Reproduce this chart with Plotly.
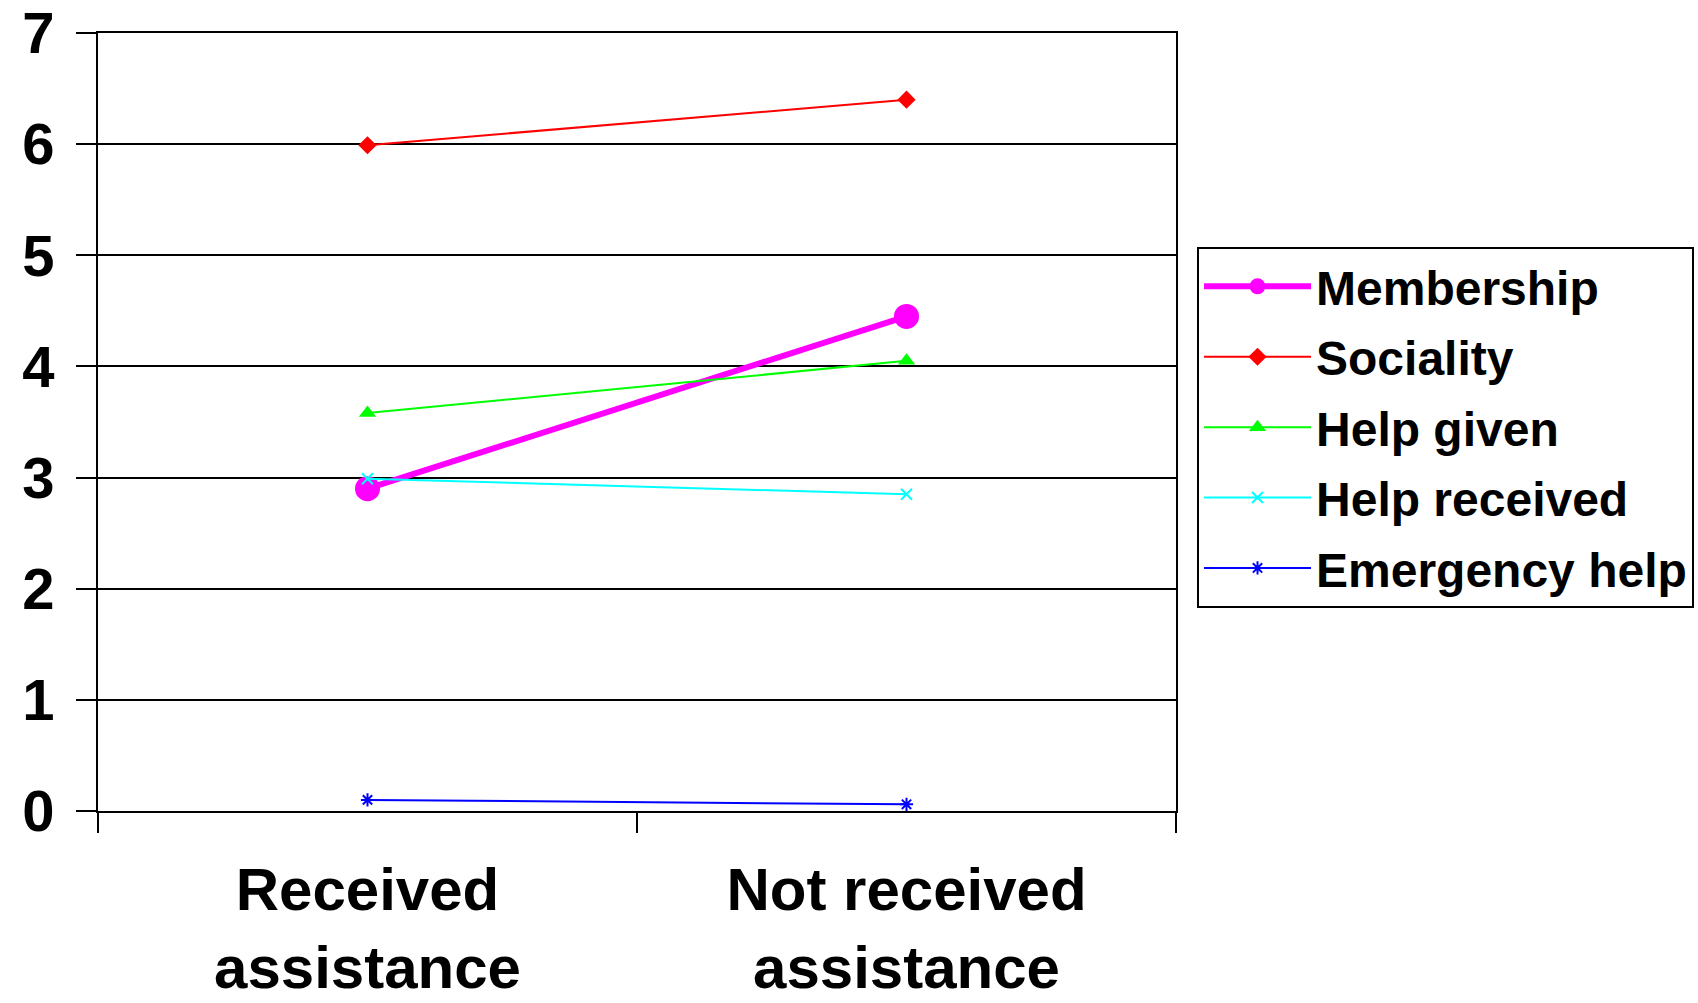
import plotly.graph_objects as go

categories = ["Received<br>assistance", "Not received<br>assistance"]

membership = [2.90, 4.45]
sociality = [5.99, 6.40]
help_given = [3.58, 4.05]
help_received = [2.99, 2.85]
emergency_help = [0.10, 0.06]

y_ticks = [0, 1, 2, 3, 4, 5, 6, 7]

series = [
    ("Membership", membership, "#ff00ff", 6, "circle", 25, 0),
    ("Sociality", sociality, "#ff0000", 2, "diamond", 14, 0),
    ("Help given", help_given, "#00ff00", 2, "triangle-up", 15, 0),
    ("Help received", help_received, "#00ffff", 2, "x-thin", 11, 2),
    ("Emergency help", emergency_help, "#0000ff", 2, "asterisk", 11, 2),
]

fig = go.Figure()
for i, (name, vals, color, lw, symbol, msize, mlw) in enumerate(series):
    fig.add_trace(go.Scatter(
        x=categories, y=vals, name=name, mode="lines+markers",
        legendgroup=f"g{i}",
        line=dict(color=color, width=lw),
        marker=dict(symbol=symbol, size=msize, color=color,
                    line=dict(color=color, width=mlw)),
    ))

font_family = "Liberation Sans, Arial, sans-serif"

fig.update_layout(
    width=1698, height=1003,
    margin=dict(l=98, r=522, t=33, b=192, autoexpand=False),
    paper_bgcolor="white", plot_bgcolor="white",
    showlegend=True,
    legend=dict(
        x=1.0195, xanchor="left", y=0.7254, yanchor="top",
        bordercolor="black", borderwidth=2,
        font=dict(family=font_family, size=48, color="black", weight="bold"),
        itemwidth=107, tracegroupgap=5,
    ),
    font=dict(family=font_family, color="black"),
)

fig.update_xaxes(
    type="category", range=[-0.5, 1.5], automargin=False,
    tickson="boundaries", ticks="outside", ticklen=20, tickwidth=2, tickcolor="black",
    showline=True, linecolor="black", linewidth=2, mirror=True,
    showgrid=False, zeroline=False,
    tickfont=dict(family=font_family, size=60, color="black", weight="bold"),
    ticklabelstandoff=25,
)

fig.update_yaxes(
    range=[0, 7], tickvals=y_ticks, automargin=False,
    ticks="outside", ticklen=20, tickwidth=2, tickcolor="black",
    showline=True, linecolor="black", linewidth=2, mirror=True,
    showgrid=True, gridcolor="black", gridwidth=2, zeroline=False,
    tickfont=dict(family=font_family, size=58, color="black", weight="bold"),
    ticklabelstandoff=10,
)

fig.write_html("out.html")
